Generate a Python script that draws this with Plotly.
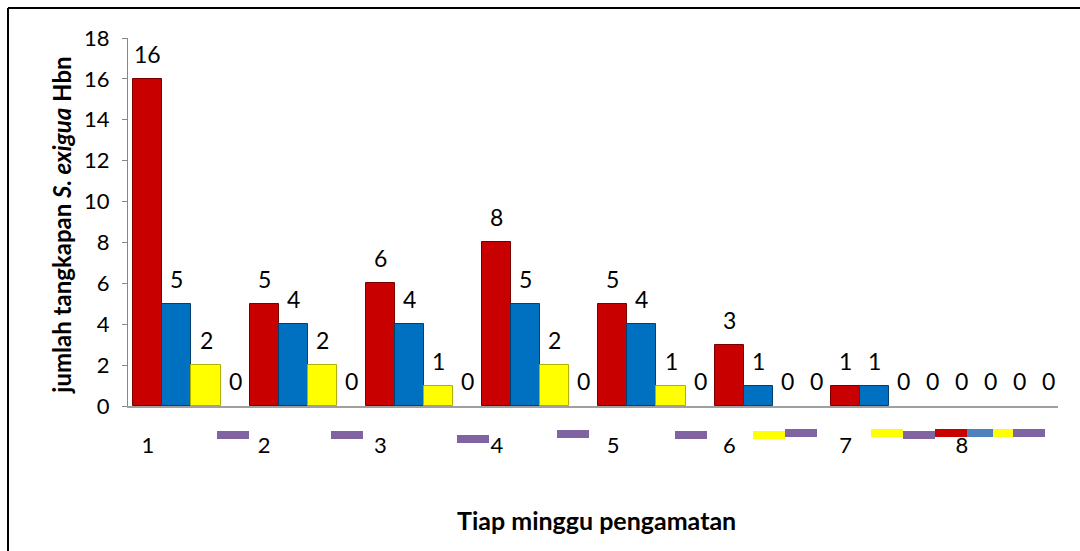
import plotly.graph_objects as go

# Weekly catch counts, four series per observation week
weeks = ["1", "2", "3", "4", "5", "6", "7", "8"]
series_a = [16, 5, 6, 8, 5, 3, 1, 0]
series_b = [5, 4, 4, 5, 4, 1, 1, 0]
series_c = [2, 2, 1, 2, 1, 0, 0, 0]
series_d = [0, 0, 0, 0, 0, 0, 0, 0]

W, H = 1080, 551
ML, MR, MT, MB = 128, 22, 38, 145
PW, PH = W - ML - MR, H - MT - MB

FONT = "Lato, Open Sans, sans-serif"
colors = ["#C80000", "#0070C0", "#FFFF00", "#8064A2"]
edges = ["#7A0000", "#003F70", "#B0B000", "#4F3D66"]
all_series = [series_a, series_b, series_c, series_d]

xpos = list(range(1, len(weeks) + 1))
x0 = 0.454  # left end of the category axis
n = len(all_series)
bw = 1.0 / n

fig = go.Figure()
for k, (vals, c, e) in enumerate(zip(all_series, colors, edges)):
    fig.add_trace(go.Bar(
        x=xpos, y=vals,
        marker=dict(color=c, line=dict(color=e, width=[1 if v > 0 else 0 for v in vals])),
        showlegend=False, hoverinfo="skip",
    ))

# value labels above each bar
annotations = []
for k, vals in enumerate(all_series):
    for i, v in enumerate(vals):
        annotations.append(dict(
            x=xpos[i] + (k - (n - 1) / 2) * bw, y=v, xref="x", yref="y",
            text=str(v), showarrow=False, yshift=25, yanchor="middle",
            font=dict(family=FONT, size=23, color="#000000"),
        ))

# axis titles
annotations.append(dict(
    x=(62 - ML) / PW, y=0.49, xref="paper", yref="paper",
    text="<b>jumlah tangkapan <i>S. exigua</i> Hbn</b>", textangle=-90,
    showarrow=False, xanchor="center", yanchor="middle",
    font=dict(family=FONT, size=24, color="#000000"),
))
annotations.append(dict(
    x=(596 - ML) / PW, y=-(520 - MT - PH) / PH, xref="paper", yref="paper",
    text="<b>Tiap minggu pengamatan</b>", showarrow=False,
    xanchor="center", yanchor="middle",
    font=dict(family=FONT, size=25, color="#000000"),
))

def px_x(p):
    return (p - ML) / PW

def px_y(p):
    return (H - MB - p) / PH

# scattered series keys beneath the category axis
legend_keys = [
    (217, 249, 435, colors[3]), (331, 363, 435, colors[3]),
    (457, 489, 439, colors[3]), (557, 589, 434, colors[3]),
    (675, 707, 435, colors[3]), (753, 785, 435, colors[2]),
    (785, 817, 433, colors[3]), (871, 903, 433, colors[2]),
    (903, 935, 435, colors[3]), (935, 967, 433, colors[0]),
    (967, 993, 433, "#4F81BD"), (993, 1013, 433, colors[2]),
    (1013, 1045, 433, colors[3]),
]
shapes = []
for a, b, yc, c in legend_keys:
    shapes.append(dict(
        type="rect", xref="paper", yref="paper",
        x0=px_x(a), x1=px_x(b), y0=px_y(yc + 4), y1=px_y(yc - 4),
        fillcolor=c, line=dict(width=0), layer="above",
    ))

# chart frame
shapes.append(dict(type="line", xref="paper", yref="paper",
                   x0=px_x(8), x1=px_x(W + 5), y0=px_y(8), y1=px_y(8),
                   line=dict(color="#000000", width=2)))
shapes.append(dict(type="line", xref="paper", yref="paper",
                   x0=px_x(8), x1=px_x(8), y0=px_y(8), y1=px_y(H + 5),
                   line=dict(color="#000000", width=2)))

fig.update_layout(
    width=W, height=H,
    margin=dict(l=ML, r=MR, t=MT, b=MB, autoexpand=False),
    paper_bgcolor="#FFFFFF", plot_bgcolor="#FFFFFF",
    barmode="group", bargap=0, bargroupgap=0,
    annotations=annotations, shapes=shapes,
    font=dict(family=FONT, color="#000000"),
)
fig.update_xaxes(
    range=[x0, x0 + len(weeks)],
    tickvals=[p - 0.374 for p in xpos], ticktext=weeks,
    ticks="", showgrid=False, zeroline=False,
    showline=True, linecolor="#A0A0A0", linewidth=2,
    tickfont=dict(family=FONT, size=22, color="#000000"),
    ticklabelstandoff=19,
)
fig.update_yaxes(
    range=[0, 18], dtick=2, tick0=0,
    ticks="outside", ticklen=5, tickcolor="#888888",
    showgrid=False, zeroline=False,
    showline=True, linecolor="#888888", linewidth=1,
    tickfont=dict(family=FONT, size=22, color="#000000"),
    ticklabelstandoff=8,
)

fig.write_html("out.html")
